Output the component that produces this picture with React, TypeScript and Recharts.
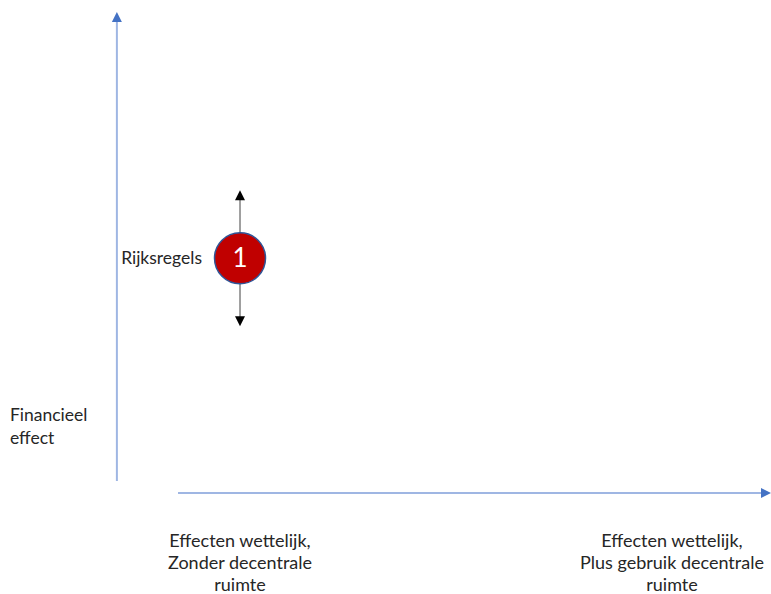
import { ScatterChart, Scatter, XAxis, YAxis, ReferenceLine, ReferenceDot } from 'recharts';

// categories on the horizontal axis (one entry per line)
const categoryLabels: string[][] = [
  ['Effecten wettelijk,', 'Zonder decentrale', 'ruimte'],
  ['Effecten wettelijk,', 'Plus gebruik decentrale', 'ruimte'],
];
const categoryTicks = [0, 1];

// vertical axis title
const yAxisTitle = ['Financieel', 'effect'];

// effect points: position + the range of possible outcomes
const pointIds = ['1'];
const pointNames = ['Rijksregels'];
const pointCategory = [0];
const pointEffect = [4.75];
const effectLow = [3.3];
const effectHigh = [6.2];

const points = pointIds.map((id, i) => ({
  id,
  name: pointNames[i],
  x: pointCategory[i],
  y: pointEffect[i],
  low: effectLow[i],
  high: effectHigh[i],
}));

const W = 771;
const H = 594;
const X_DOMAIN: [number, number] = [-0.5556, 1.2292];
const Y_DOMAIN: [number, number] = [-2.409, 10.256];
const AXIS_X = -0.285;
const AXIS_Y = -0.256;
const H_AXIS_START = -0.1435;

const FONT = 'Lato, "Open Sans", sans-serif';
const TEXT = '#262626';
const AXIS_BLUE = '#4472C4';

function arrowHead(x: number, y: number, dx: number, dy: number, len: number, half: number, fill: string, key: string) {
  const l = Math.hypot(dx, dy) || 1;
  const ux = dx / l;
  const uy = dy / l;
  const bx = x - ux * len;
  const by = y - uy * len;
  const pts = `${x},${y} ${bx - uy * half},${by + ux * half} ${bx + uy * half},${by - ux * half}`;
  return <polygon key={key} points={pts} fill={fill} />;
}

const AxisArrow = (props: any) => {
  const { x1, y1, x2, y2 } = props;
  const dx = x2 - x1;
  const dy = y2 - y1;
  const l = Math.hypot(dx, dy) || 1;
  const ex = x2 - (dx / l) * 8;
  const ey = y2 - (dy / l) * 8;
  return (
    <g>
      <line x1={x1} y1={y1} x2={ex} y2={ey} stroke="#9fb6e3" strokeWidth={2} />
      {arrowHead(x2, y2, dx, dy, 10, 5, AXIS_BLUE, 'h')}
    </g>
  );
};

const VerticalAxis = (props: any) => {
  const { x1, y1 } = props;
  return (
    <g>
      <AxisArrow {...props} />
      {yAxisTitle.map((t, i) => (
        <text key={t} x={x1 - 107} y={y1 - 60 + i * 23} fill={TEXT} fontFamily={FONT} fontSize={17.5}>
          {t}
        </text>
      ))}
    </g>
  );
};

const RangeArrow = (props: any) => {
  const { x1, y1, y2 } = props;
  const top = Math.min(y1, y2);
  const bottom = Math.max(y1, y2);
  const mid = (top + bottom) / 2;
  return (
    <g>
      <line x1={x1} y1={top + 8} x2={x1} y2={mid - 25} stroke="#808080" strokeWidth={1.5} />
      <line x1={x1} y1={mid + 25} x2={x1} y2={bottom - 8} stroke="#808080" strokeWidth={1.5} />
      {arrowHead(x1, top, 0, -1, 10, 5, '#000', 't')}
      {arrowHead(x1, bottom, 0, 1, 10, 5, '#000', 'b')}
    </g>
  );
};

const PointShape = (props: any) => {
  const { cx, cy, payload } = props;
  return (
    <g>
      <circle cx={cx} cy={cy} r={25.5} fill="#C00000" stroke="#2F5597" strokeWidth={1.5} />
      <text x={cx} y={cy + 9} textAnchor="middle" fill="#fff" fontFamily={FONT} fontSize={26}>
        {payload.id}
      </text>
      <text x={cx - 38} y={cy + 6} textAnchor="end" fill={TEXT} fontFamily={FONT} fontSize={17.5}>
        {payload.name}
      </text>
    </g>
  );
};

const makeCategoryLabel = (idx: number) => (props: any) => {
  const { cx, cy } = props;
  const lines = categoryLabels[idx] || [];
  return (
    <g>
      {lines.map((t, i) => (
        <text key={i} x={cx} y={cy + 54 + i * 22} textAnchor="middle" fill={TEXT} fontFamily={FONT} fontSize={18}>
          {t}
        </text>
      ))}
    </g>
  );
};

export default function App() {
  return (
    <div style={{ position: 'absolute', left: 0, top: 0, width: W, height: H, background: '#fff' }}>
      <ScatterChart width={W} height={H} margin={{ top: 0, right: 0, bottom: 0, left: 0 }}>
        <XAxis type="number" dataKey="x" domain={X_DOMAIN} allowDataOverflow hide height={0} />
        <YAxis type="number" dataKey="y" domain={Y_DOMAIN} allowDataOverflow hide width={0} />
        <ReferenceLine
          segment={[{ x: AXIS_X, y: 0 }, { x: AXIS_X, y: 10 }]}
          ifOverflow="visible"
          shape={<VerticalAxis />}
        />
        <ReferenceLine
          segment={[{ x: H_AXIS_START, y: AXIS_Y }, { x: X_DOMAIN[1], y: AXIS_Y }]}
          ifOverflow="visible"
          shape={<AxisArrow />}
        />
        {categoryTicks.map((c, i) => (
          <ReferenceDot
            key={`cat-${c}`}
            x={c + (i === 1 ? -0.0 : 0)}
            y={AXIS_Y}
            r={0}
            ifOverflow="visible"
            shape={makeCategoryLabel(i)}
          />
        ))}
        {points.map((p) => (
          <ReferenceLine
            key={p.id}
            segment={[{ x: p.x, y: p.high }, { x: p.x, y: p.low }]}
            ifOverflow="visible"
            shape={<RangeArrow />}
          />
        ))}
        <Scatter data={points} isAnimationActive={false} shape={<PointShape />} />
      </ScatterChart>
    </div>
  );
}
